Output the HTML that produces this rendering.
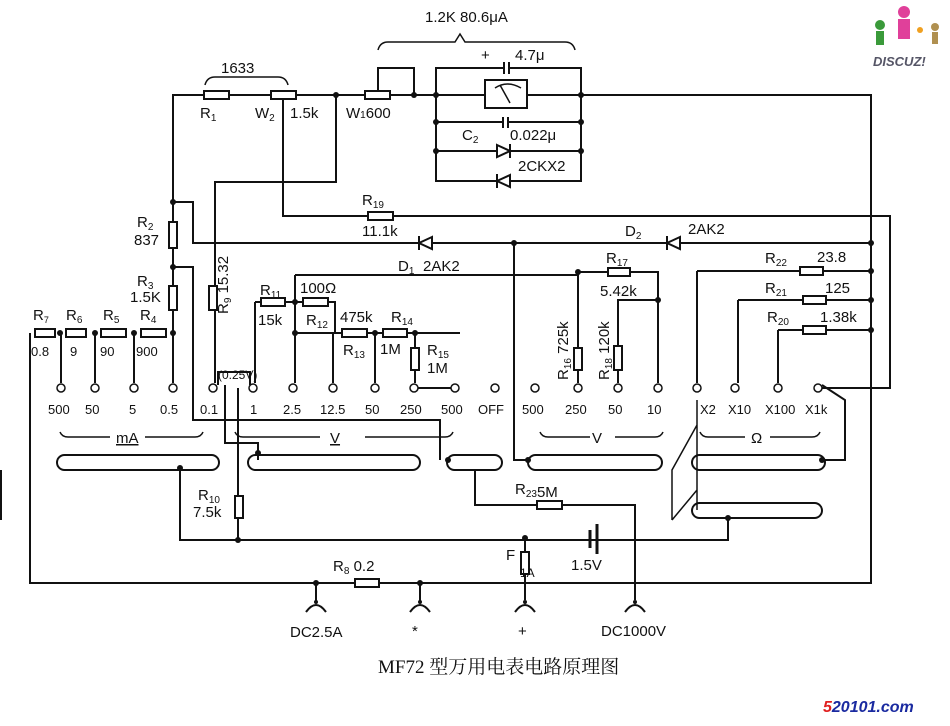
<!DOCTYPE html>
<html><head><meta charset="utf-8"><style>
html,body{margin:0;padding:0;background:#fff;}
svg{display:block;}
text{font-family:"Liberation Sans",sans-serif;fill:#111;}
</style></head><body>
<svg width="950" height="726" viewBox="0 0 950 726" xmlns="http://www.w3.org/2000/svg">
<g stroke="#111" stroke-width="2" fill="none">
<path d="M173,333 V95 H871 V583 H30 V333"/>
<path d="M205,85 q2,-8 10,-8 H278 q8,0 10,8" stroke-width="1.5"/>
<path d="M378,50 q2,-8 10,-8 H455 l5,-8 l5,8 H565 q8,0 10,8" stroke-width="1.5"/>
<path d="M378,90 V68 H414 V95"/>
<path d="M436,68 H581 V181 H436 Z"/>
<path d="M436,122 H581 M436,151 H581"/>
<path d="M283,95 V216 H890 V388 H818"/>
<path d="M336,95 V182 H215 V383"/>
<path d="M173,202 H193 V243 H871"/>
<path d="M173,267 H193 V420 H440 V460"/>
<path d="M295,275 H578"/>
<path d="M295,275 V383 M255,302 V383 M255,302 H335 V333 M295,302 V333 H415 V383 M415,333 H460 M415,388 H455"/>
<path d="M333,333 V383 M375,333 V383"/>
<path d="M514,243 V460 H528"/>
<path d="M578,272 H658 V383 M658,300 H618 V383 M578,272 V383"/>
<path d="M697,271 H871 M738,300 H871 M778,330 H871"/>
<path d="M697,271 V383 M738,300 V383 M778,330 V383"/>
<path d="M822,385 L845,400 V460 H825"/>
<path d="M61,333 V383 M95,333 V383 M134,333 V383 M173,333 V383"/>
<path d="M218,385 V372 H250 V385 M225,385 V443 H258 V460 M238,388 V540"/>
<path d="M180,468 V540 H728 V517"/>
<path d="M475,470 V505 H635 V600"/>
<path d="M525,540 V600"/>
<path d="M316,583 V602 M420,583 V602"/>
<path d="M697,400 V510 M697,425 L672,470 V520 M697,490 L672,520" stroke-width="1.5"/>
<rect x="57" y="455" width="162" height="15" rx="7.5"/>
<rect x="248" y="455" width="172" height="15" rx="7.5"/>
<rect x="447" y="455" width="55" height="15" rx="7.5"/>
<rect x="528" y="455" width="134" height="15" rx="7.5"/>
<rect x="692" y="455" width="133" height="15" rx="7.5"/>
<rect x="692" y="503" width="130" height="15" rx="7.5"/>
<path d="M60,432 q2,5 8,5 H110 M145,437 H195 q6,0 8,-5" stroke-width="1.5"/>
<path d="M235,432 q2,5 8,5 H320 M365,437 H445 q6,0 8,-5" stroke-width="1.5"/>
<path d="M540,432 q2,5 8,5 H590 M615,437 H655 q6,0 8,-5" stroke-width="1.5"/>
<path d="M700,432 q2,5 8,5 H745 M770,437 H812 q6,0 8,-5" stroke-width="1.5"/>
<path d="M306,612 q10,-14 20,0 M410,612 q10,-14 20,0 M515,612 q10,-14 20,0 M625,612 q10,-14 20,0"/>
<path d="M590,530 V548 M597,524 V554" stroke-width="3"/>
<rect x="485" y="80" width="42" height="28" fill="#fff"/>
<path d="M495,88 q12,-8 26,0 M500,85 L510,103" stroke-width="1.5"/>
<path d="M504,62 V74 M509,62 V74 M503,117 V128 M508,117 V128" fill="#fff"/>
</g>
<rect x="505" y="64" width="3" height="8" fill="#fff"/><rect x="504" y="118" width="3" height="8" fill="#fff"/>
<g fill="#fff" stroke="#111" stroke-width="2">
<path d="M497,145 L510,151 L497,157 Z M510,144 V158"/>
<path d="M510,175 L497,181 L510,187 Z M497,174 V188"/>
<path d="M432,237 L419,243 L432,249 Z M419,236 V250"/>
<path d="M680,237 L667,243 L680,249 Z M667,236 V250"/>
</g>
<g fill="#fff" stroke="#111" stroke-width="2">
<rect x="204" y="91" width="25" height="8"/>
<rect x="271" y="91" width="25" height="8"/>
<rect x="365" y="91" width="25" height="8"/>
<rect x="368" y="212" width="25" height="8"/>
<rect x="169" y="222" width="8" height="26"/>
<rect x="169" y="286" width="8" height="24"/>
<rect x="209" y="286" width="8" height="24"/>
<rect x="35" y="329" width="20" height="8"/>
<rect x="66" y="329" width="20" height="8"/>
<rect x="101" y="329" width="25" height="8"/>
<rect x="141" y="329" width="25" height="8"/>
<rect x="261" y="298" width="24" height="8"/>
<rect x="303" y="298" width="25" height="8"/>
<rect x="342" y="329" width="25" height="8"/>
<rect x="383" y="329" width="24" height="8"/>
<rect x="411" y="348" width="8" height="22"/>
<rect x="608" y="268" width="22" height="8"/>
<rect x="574" y="348" width="8" height="22"/>
<rect x="614" y="346" width="8" height="24"/>
<rect x="800" y="267" width="23" height="8"/>
<rect x="803" y="296" width="23" height="8"/>
<rect x="803" y="326" width="23" height="8"/>
<rect x="235" y="496" width="8" height="22"/>
<rect x="537" y="501" width="25" height="8"/>
<rect x="355" y="579" width="24" height="8"/>
<rect x="521" y="552" width="8" height="22"/>
</g>
<g fill="#111">
<circle cx="336" cy="95" r="3"/><circle cx="414" cy="95" r="3"/><circle cx="436" cy="95" r="3"/><circle cx="436" cy="122" r="3"/><circle cx="436" cy="151" r="3"/>
<circle cx="581" cy="95" r="3"/><circle cx="581" cy="122" r="3"/><circle cx="581" cy="151" r="3"/>
<circle cx="173" cy="202" r="3"/><circle cx="173" cy="267" r="3"/><circle cx="173" cy="333" r="3"/><circle cx="60" cy="333" r="3"/><circle cx="95" cy="333" r="3"/><circle cx="134" cy="333" r="3"/>
<circle cx="295" cy="302" r="3"/><circle cx="295" cy="333" r="3"/><circle cx="375" cy="333" r="3"/><circle cx="415" cy="333" r="3"/>
<circle cx="514" cy="243" r="3"/><circle cx="871" cy="243" r="3"/><circle cx="871" cy="271" r="3"/><circle cx="871" cy="300" r="3"/><circle cx="871" cy="330" r="3"/>
<circle cx="578" cy="272" r="3"/><circle cx="658" cy="300" r="3"/>
<circle cx="180" cy="468" r="3"/><circle cx="258" cy="453" r="3"/><circle cx="448" cy="460" r="3"/><circle cx="528" cy="460" r="3"/><circle cx="822" cy="460" r="3"/><circle cx="728" cy="518" r="3"/>
<circle cx="238" cy="540" r="3"/><circle cx="525" cy="538" r="3"/><circle cx="316" cy="583" r="3"/><circle cx="420" cy="583" r="3"/>
<circle cx="316" cy="602" r="2"/><circle cx="420" cy="602" r="2"/><circle cx="525" cy="602" r="2"/><circle cx="635" cy="602" r="2"/>
</g>
<g fill="#fff" stroke="#111" stroke-width="1.5">
<circle cx="61" cy="388" r="4"/><circle cx="95" cy="388" r="4"/><circle cx="134" cy="388" r="4"/><circle cx="173" cy="388" r="4"/>
<circle cx="213" cy="388" r="4"/><circle cx="253" cy="388" r="4"/><circle cx="293" cy="388" r="4"/><circle cx="333" cy="388" r="4"/><circle cx="375" cy="388" r="4"/><circle cx="414" cy="388" r="4"/><circle cx="455" cy="388" r="4"/><circle cx="495" cy="388" r="4"/>
<circle cx="535" cy="388" r="4"/><circle cx="578" cy="388" r="4"/><circle cx="618" cy="388" r="4"/><circle cx="658" cy="388" r="4"/>
<circle cx="697" cy="388" r="4"/><circle cx="735" cy="388" r="4"/><circle cx="778" cy="388" r="4"/><circle cx="818" cy="388" r="4"/>
</g>
<g font-size="15">
<text x="425" y="22">1.2K 80.6μA</text>
<text x="221" y="73">1633</text>
<text x="481" y="60">+</text><text x="515" y="60">4.7μ</text>
<text x="200" y="118">R<tspan font-size="10" dy="3">1</tspan></text>
<text x="255" y="118">W<tspan font-size="10" dy="3">2</tspan></text><text x="290" y="118">1.5k</text>
<text x="346" y="118">W<tspan font-size="10">1</tspan>600</text>
<text x="462" y="140">C<tspan font-size="10" dy="3">2</tspan></text><text x="510" y="140">0.022μ</text>
<text x="518" y="171">2CKX2</text>
<text x="362" y="205">R<tspan font-size="10" dy="3">19</tspan></text>
<text x="362" y="236">11.1k</text>
<text x="398" y="271">D<tspan font-size="10" dy="3">1</tspan></text><text x="423" y="271">2AK2</text>
<text x="625" y="236">D<tspan font-size="10" dy="3">2</tspan></text><text x="688" y="234">2AK2</text>
<text x="137" y="227">R<tspan font-size="10" dy="3">2</tspan></text><text x="134" y="245">837</text>
<text x="137" y="286">R<tspan font-size="10" dy="3">3</tspan></text><text x="130" y="302">1.5K</text>
<text x="33" y="320">R<tspan font-size="9" dy="3">7</tspan></text><text x="66" y="320">R<tspan font-size="10" dy="3">6</tspan></text><text x="103" y="320">R<tspan font-size="10" dy="3">5</tspan></text><text x="140" y="320">R<tspan font-size="10" dy="3">4</tspan></text>
<text x="31" y="356" font-size="13">0.8</text><text x="70" y="356" font-size="13">9</text><text x="100" y="356" font-size="13">90</text><text x="136" y="356" font-size="13">900</text>
<text x="260" y="295">R<tspan font-size="10" dy="3">11</tspan></text><text x="300" y="293">100Ω</text>
<text x="258" y="325">15k</text><text x="306" y="325">R<tspan font-size="10" dy="3">12</tspan></text>
<text x="340" y="322">475k</text><text x="391" y="322">R<tspan font-size="10" dy="3">14</tspan></text>
<text x="343" y="355">R<tspan font-size="10" dy="3">13</tspan></text><text x="380" y="354">1M</text>
<text x="427" y="355">R<tspan font-size="10" dy="3">15</tspan></text><text x="427" y="373">1M</text>
<text x="606" y="263">R<tspan font-size="10" dy="3">17</tspan></text><text x="600" y="296">5.42k</text>
<text x="765" y="263">R<tspan font-size="10" dy="3">22</tspan></text><text x="817" y="262">23.8</text>
<text x="765" y="293">R<tspan font-size="10" dy="3">21</tspan></text><text x="825" y="293">125</text>
<text x="767" y="322">R<tspan font-size="10" dy="3">20</tspan></text><text x="820" y="322">1.38k</text>
<text x="198" y="500">R<tspan font-size="10" dy="3">10</tspan></text><text x="193" y="517">7.5k</text>
<text x="515" y="494">R<tspan font-size="10" dy="3">23</tspan>5M</text>
<text x="571" y="570">1.5V</text>
<text x="506" y="560">F</text><text x="520" y="577" font-size="12">1A</text>
<text x="333" y="571">R<tspan font-size="10" dy="3">8</tspan><tspan dy="-3"> 0.2</tspan></text>
<text x="290" y="637">DC2.5A</text><text x="412" y="636">*</text><text x="518" y="636">+</text><text x="601" y="636">DC1000V</text>
<text x="48" y="414" font-size="13">500</text><text x="85" y="414" font-size="13">50</text><text x="129" y="414" font-size="13">5</text><text x="160" y="414" font-size="13">0.5</text>
<text x="200" y="414" font-size="13">0.1</text><text x="250" y="414" font-size="13">1</text><text x="283" y="414" font-size="13">2.5</text><text x="320" y="414" font-size="13">12.5</text><text x="365" y="414" font-size="13">50</text><text x="400" y="414" font-size="13">250</text><text x="441" y="414" font-size="13">500</text><text x="478" y="414" font-size="13">OFF</text>
<text x="522" y="414" font-size="13">500</text><text x="565" y="414" font-size="13">250</text><text x="608" y="414" font-size="13">50</text><text x="647" y="414" font-size="13">10</text>
<text x="700" y="414" font-size="13">X2</text><text x="728" y="414" font-size="13">X10</text><text x="765" y="414" font-size="13">X100</text><text x="805" y="414" font-size="13">X1k</text>
<text x="218" y="379" font-size="12">(0.25V)</text>
<text x="116" y="443" text-decoration="underline">mA</text><text x="330" y="443" text-decoration="underline">V</text><text x="592" y="443">V</text><text x="751" y="443">Ω</text>
<text transform="translate(228,314) rotate(-90)">R<tspan font-size="10" dy="3">9</tspan><tspan dy="-3"> 15.32</tspan></text>
<text transform="translate(568,380) rotate(-90)">R<tspan font-size="10" dy="3">16</tspan><tspan dy="-3"> 725k</tspan></text>
<text transform="translate(609,380) rotate(-90)">R<tspan font-size="10" dy="3">18</tspan><tspan dy="-3"> 120k</tspan></text>
</g>
<text x="378" y="673" font-size="19" style="font-family:'Liberation Serif','Noto Serif CJK SC',serif">MF72 型万用电表电路原理图</text>
<g>
<circle cx="880" cy="25" r="5" fill="#3a9a3a"/><rect x="876" y="31" width="8" height="14" fill="#3a9a3a"/>
<circle cx="904" cy="12" r="6" fill="#e0409a"/><rect x="898" y="19" width="12" height="20" fill="#e0409a"/>
<circle cx="920" cy="30" r="3" fill="#f0a020"/><circle cx="935" cy="27" r="4" fill="#b09050"/><rect x="932" y="32" width="6" height="12" fill="#b09050"/>
<text x="873" y="66" font-size="13" font-weight="bold" font-style="italic" style="fill:#556">DISCUZ!</text>
<text x="823" y="712" font-size="16" font-weight="bold" font-style="italic" style="fill:#1a2aa0"><tspan style="fill:#e02020">5</tspan>20101.com</text>
</g>
<rect x="0" y="470" width="2" height="50" fill="#111"/>
</svg>
</body></html>
